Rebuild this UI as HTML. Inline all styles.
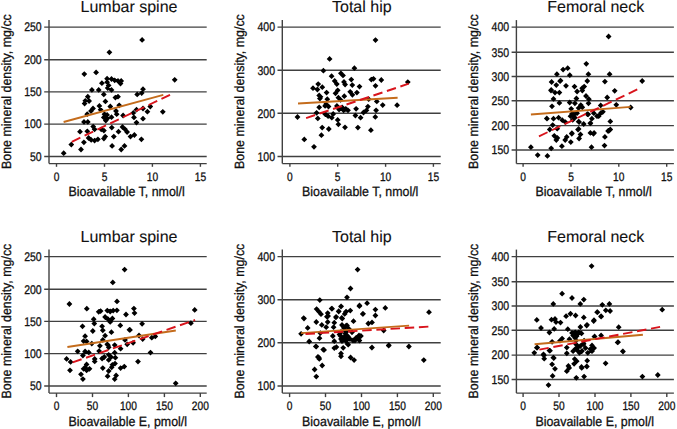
<!DOCTYPE html>
<html><head><meta charset="utf-8"><style>
html,body{margin:0;padding:0;background:#fff;}
svg{display:block;text-rendering:geometricPrecision;}
</style></head><body>
<svg width="677" height="429" viewBox="0 0 677 429">
<rect width="677" height="429" fill="#fff"/>
<g stroke="#404040" stroke-width="1.4" fill="none">
<line x1="44.2" y1="27.1" x2="206.7" y2="27.1"/>
<line x1="44.2" y1="59.8" x2="206.7" y2="59.8"/>
<line x1="44.2" y1="91.9" x2="206.7" y2="91.9"/>
<line x1="44.2" y1="124.1" x2="206.7" y2="124.1"/>
<line x1="44.2" y1="156.5" x2="206.7" y2="156.5"/>
<line x1="49.0" y1="20.1" x2="49.0" y2="163.6"/>
<line x1="49.0" y1="163.6" x2="206.7" y2="163.6"/>
<line x1="56.5" y1="163.6" x2="56.5" y2="166.8"/>
<line x1="104.5" y1="163.6" x2="104.5" y2="166.8"/>
<line x1="152.4" y1="163.6" x2="152.4" y2="166.8"/>
<line x1="200.4" y1="163.6" x2="200.4" y2="166.8"/>
<line x1="277.5" y1="27.1" x2="440.7" y2="27.1"/>
<line x1="277.5" y1="70.3" x2="440.7" y2="70.3"/>
<line x1="277.5" y1="113.2" x2="440.7" y2="113.2"/>
<line x1="277.5" y1="156.5" x2="440.7" y2="156.5"/>
<line x1="282.3" y1="20.1" x2="282.3" y2="163.6"/>
<line x1="282.3" y1="163.6" x2="440.7" y2="163.6"/>
<line x1="289.9" y1="163.6" x2="289.9" y2="166.8"/>
<line x1="337.7" y1="163.6" x2="337.7" y2="166.8"/>
<line x1="385.6" y1="163.6" x2="385.6" y2="166.8"/>
<line x1="433.4" y1="163.6" x2="433.4" y2="166.8"/>
<line x1="511.6" y1="27.1" x2="673.9" y2="27.1"/>
<line x1="511.6" y1="52.2" x2="673.9" y2="52.2"/>
<line x1="511.6" y1="76.5" x2="673.9" y2="76.5"/>
<line x1="511.6" y1="100.8" x2="673.9" y2="100.8"/>
<line x1="511.6" y1="125.6" x2="673.9" y2="125.6"/>
<line x1="511.6" y1="150.0" x2="673.9" y2="150.0"/>
<line x1="516.4" y1="20.1" x2="516.4" y2="163.6"/>
<line x1="516.4" y1="163.6" x2="673.9" y2="163.6"/>
<line x1="523.1" y1="163.6" x2="523.1" y2="166.8"/>
<line x1="571.0" y1="163.6" x2="571.0" y2="166.8"/>
<line x1="618.8" y1="163.6" x2="618.8" y2="166.8"/>
<line x1="666.7" y1="163.6" x2="666.7" y2="166.8"/>
<line x1="44.2" y1="256.6" x2="206.7" y2="256.6"/>
<line x1="44.2" y1="289.3" x2="206.7" y2="289.3"/>
<line x1="44.2" y1="321.4" x2="206.7" y2="321.4"/>
<line x1="44.2" y1="353.6" x2="206.7" y2="353.6"/>
<line x1="44.2" y1="386.0" x2="206.7" y2="386.0"/>
<line x1="49.0" y1="249.6" x2="49.0" y2="393.1"/>
<line x1="49.0" y1="393.1" x2="206.7" y2="393.1"/>
<line x1="56.5" y1="393.1" x2="56.5" y2="397.1"/>
<line x1="92.5" y1="393.1" x2="92.5" y2="397.1"/>
<line x1="128.4" y1="393.1" x2="128.4" y2="397.1"/>
<line x1="164.4" y1="393.1" x2="164.4" y2="397.1"/>
<line x1="200.3" y1="393.1" x2="200.3" y2="397.1"/>
<line x1="277.5" y1="256.6" x2="440.7" y2="256.6"/>
<line x1="277.5" y1="299.8" x2="440.7" y2="299.8"/>
<line x1="277.5" y1="342.7" x2="440.7" y2="342.7"/>
<line x1="277.5" y1="386.0" x2="440.7" y2="386.0"/>
<line x1="282.3" y1="249.6" x2="282.3" y2="393.1"/>
<line x1="282.3" y1="393.1" x2="440.7" y2="393.1"/>
<line x1="289.6" y1="393.1" x2="289.6" y2="397.1"/>
<line x1="325.5" y1="393.1" x2="325.5" y2="397.1"/>
<line x1="361.5" y1="393.1" x2="361.5" y2="397.1"/>
<line x1="397.4" y1="393.1" x2="397.4" y2="397.1"/>
<line x1="433.3" y1="393.1" x2="433.3" y2="397.1"/>
<line x1="511.6" y1="256.6" x2="673.9" y2="256.6"/>
<line x1="511.6" y1="281.7" x2="673.9" y2="281.7"/>
<line x1="511.6" y1="306.0" x2="673.9" y2="306.0"/>
<line x1="511.6" y1="330.3" x2="673.9" y2="330.3"/>
<line x1="511.6" y1="355.1" x2="673.9" y2="355.1"/>
<line x1="511.6" y1="379.5" x2="673.9" y2="379.5"/>
<line x1="516.4" y1="249.6" x2="516.4" y2="393.1"/>
<line x1="516.4" y1="393.1" x2="673.9" y2="393.1"/>
<line x1="523.1" y1="393.1" x2="523.1" y2="397.1"/>
<line x1="559.0" y1="393.1" x2="559.0" y2="397.1"/>
<line x1="595.0" y1="393.1" x2="595.0" y2="397.1"/>
<line x1="630.9" y1="393.1" x2="630.9" y2="397.1"/>
<line x1="666.8" y1="393.1" x2="666.8" y2="397.1"/>
</g>
<g font-family="Liberation Sans, sans-serif" fill="#111" stroke="#111" stroke-width="0.3">
<text x="129.0" y="12.2" font-size="16" text-anchor="middle" stroke-width="0.1">Lumbar spine</text>
<text transform="translate(41.7,31.4) scale(0.84,1)" font-size="12.5" text-anchor="end">250</text>
<text transform="translate(41.7,64.1) scale(0.84,1)" font-size="12.5" text-anchor="end">200</text>
<text transform="translate(41.7,96.2) scale(0.84,1)" font-size="12.5" text-anchor="end">150</text>
<text transform="translate(41.7,128.4) scale(0.84,1)" font-size="12.5" text-anchor="end">100</text>
<text transform="translate(41.7,160.8) scale(0.84,1)" font-size="12.5" text-anchor="end">50</text>
<text transform="translate(56.5,180.6) scale(0.83,1)" font-size="12.3" text-anchor="middle">0</text>
<text transform="translate(104.5,180.6) scale(0.83,1)" font-size="12.3" text-anchor="middle">5</text>
<text transform="translate(152.4,180.6) scale(0.83,1)" font-size="12.3" text-anchor="middle">10</text>
<text transform="translate(200.4,180.6) scale(0.83,1)" font-size="12.3" text-anchor="middle">15</text>
<text x="68.5" y="196.2" font-size="13.4" textLength="116.27" lengthAdjust="spacingAndGlyphs">Bioavailable T, nmol/l</text>
<text transform="translate(10.8,91.6) rotate(-90)" font-size="13.4" text-anchor="middle" textLength="154.84" lengthAdjust="spacingAndGlyphs">Bone mineral density, mg/cc</text>
<text x="361.8" y="12.2" font-size="16" text-anchor="middle" stroke-width="0.1">Total hip</text>
<text transform="translate(275.0,31.4) scale(0.84,1)" font-size="12.5" text-anchor="end">400</text>
<text transform="translate(275.0,74.6) scale(0.84,1)" font-size="12.5" text-anchor="end">300</text>
<text transform="translate(275.0,117.5) scale(0.84,1)" font-size="12.5" text-anchor="end">200</text>
<text transform="translate(275.0,160.8) scale(0.84,1)" font-size="12.5" text-anchor="end">100</text>
<text transform="translate(289.9,180.6) scale(0.83,1)" font-size="12.3" text-anchor="middle">0</text>
<text transform="translate(337.7,180.6) scale(0.83,1)" font-size="12.3" text-anchor="middle">5</text>
<text transform="translate(385.6,180.6) scale(0.83,1)" font-size="12.3" text-anchor="middle">10</text>
<text transform="translate(433.4,180.6) scale(0.83,1)" font-size="12.3" text-anchor="middle">15</text>
<text x="302.1" y="196.2" font-size="13.4" textLength="116.27" lengthAdjust="spacingAndGlyphs">Bioavailable T, nmol/l</text>
<text transform="translate(244.0,91.6) rotate(-90)" font-size="13.4" text-anchor="middle" textLength="154.84" lengthAdjust="spacingAndGlyphs">Bone mineral density, mg/cc</text>
<text x="595.8" y="12.2" font-size="16" text-anchor="middle" stroke-width="0.1">Femoral neck</text>
<text transform="translate(509.1,31.4) scale(0.84,1)" font-size="12.5" text-anchor="end">400</text>
<text transform="translate(509.1,56.5) scale(0.84,1)" font-size="12.5" text-anchor="end">350</text>
<text transform="translate(509.1,80.8) scale(0.84,1)" font-size="12.5" text-anchor="end">300</text>
<text transform="translate(509.1,105.1) scale(0.84,1)" font-size="12.5" text-anchor="end">250</text>
<text transform="translate(509.1,129.9) scale(0.84,1)" font-size="12.5" text-anchor="end">200</text>
<text transform="translate(509.1,154.3) scale(0.84,1)" font-size="12.5" text-anchor="end">150</text>
<text transform="translate(523.1,180.6) scale(0.83,1)" font-size="12.3" text-anchor="middle">0</text>
<text transform="translate(571.0,180.6) scale(0.83,1)" font-size="12.3" text-anchor="middle">5</text>
<text transform="translate(618.8,180.6) scale(0.83,1)" font-size="12.3" text-anchor="middle">10</text>
<text transform="translate(666.7,180.6) scale(0.83,1)" font-size="12.3" text-anchor="middle">15</text>
<text x="535.4" y="196.2" font-size="13.4" textLength="116.27" lengthAdjust="spacingAndGlyphs">Bioavailable T, nmol/l</text>
<text transform="translate(477.7,91.6) rotate(-90)" font-size="13.4" text-anchor="middle" textLength="154.84" lengthAdjust="spacingAndGlyphs">Bone mineral density, mg/cc</text>
<text x="129.0" y="241.7" font-size="16" text-anchor="middle" stroke-width="0.1">Lumbar spine</text>
<text transform="translate(41.7,260.9) scale(0.84,1)" font-size="12.5" text-anchor="end">250</text>
<text transform="translate(41.7,293.6) scale(0.84,1)" font-size="12.5" text-anchor="end">200</text>
<text transform="translate(41.7,325.7) scale(0.84,1)" font-size="12.5" text-anchor="end">150</text>
<text transform="translate(41.7,357.9) scale(0.84,1)" font-size="12.5" text-anchor="end">100</text>
<text transform="translate(41.7,390.3) scale(0.84,1)" font-size="12.5" text-anchor="end">50</text>
<text transform="translate(56.5,410.1) scale(0.83,1)" font-size="12.3" text-anchor="middle">0</text>
<text transform="translate(92.5,410.1) scale(0.83,1)" font-size="12.3" text-anchor="middle">50</text>
<text transform="translate(128.4,410.1) scale(0.83,1)" font-size="12.3" text-anchor="middle">100</text>
<text transform="translate(164.4,410.1) scale(0.83,1)" font-size="12.3" text-anchor="middle">150</text>
<text transform="translate(200.3,410.1) scale(0.83,1)" font-size="12.3" text-anchor="middle">200</text>
<text x="68.5" y="425.7" font-size="13.4" textLength="118.56" lengthAdjust="spacingAndGlyphs">Bioavailable E, pmol/l</text>
<text transform="translate(10.8,321.1) rotate(-90)" font-size="13.4" text-anchor="middle" textLength="154.84" lengthAdjust="spacingAndGlyphs">Bone mineral density, mg/cc</text>
<text x="361.8" y="241.7" font-size="16" text-anchor="middle" stroke-width="0.1">Total hip</text>
<text transform="translate(275.0,260.9) scale(0.84,1)" font-size="12.5" text-anchor="end">400</text>
<text transform="translate(275.0,304.1) scale(0.84,1)" font-size="12.5" text-anchor="end">300</text>
<text transform="translate(275.0,347.0) scale(0.84,1)" font-size="12.5" text-anchor="end">200</text>
<text transform="translate(275.0,390.3) scale(0.84,1)" font-size="12.5" text-anchor="end">100</text>
<text transform="translate(289.6,410.1) scale(0.83,1)" font-size="12.3" text-anchor="middle">0</text>
<text transform="translate(325.5,410.1) scale(0.83,1)" font-size="12.3" text-anchor="middle">50</text>
<text transform="translate(361.5,410.1) scale(0.83,1)" font-size="12.3" text-anchor="middle">100</text>
<text transform="translate(397.4,410.1) scale(0.83,1)" font-size="12.3" text-anchor="middle">150</text>
<text transform="translate(433.3,410.1) scale(0.83,1)" font-size="12.3" text-anchor="middle">200</text>
<text x="302.1" y="425.7" font-size="13.4" textLength="118.56" lengthAdjust="spacingAndGlyphs">Bioavailable E, pmol/l</text>
<text transform="translate(244.0,321.1) rotate(-90)" font-size="13.4" text-anchor="middle" textLength="154.84" lengthAdjust="spacingAndGlyphs">Bone mineral density, mg/cc</text>
<text x="595.8" y="241.7" font-size="16" text-anchor="middle" stroke-width="0.1">Femoral neck</text>
<text transform="translate(509.1,260.9) scale(0.84,1)" font-size="12.5" text-anchor="end">400</text>
<text transform="translate(509.1,286.0) scale(0.84,1)" font-size="12.5" text-anchor="end">350</text>
<text transform="translate(509.1,310.3) scale(0.84,1)" font-size="12.5" text-anchor="end">300</text>
<text transform="translate(509.1,334.6) scale(0.84,1)" font-size="12.5" text-anchor="end">250</text>
<text transform="translate(509.1,359.4) scale(0.84,1)" font-size="12.5" text-anchor="end">200</text>
<text transform="translate(509.1,383.8) scale(0.84,1)" font-size="12.5" text-anchor="end">150</text>
<text transform="translate(523.1,410.1) scale(0.83,1)" font-size="12.3" text-anchor="middle">0</text>
<text transform="translate(559.0,410.1) scale(0.83,1)" font-size="12.3" text-anchor="middle">50</text>
<text transform="translate(595.0,410.1) scale(0.83,1)" font-size="12.3" text-anchor="middle">100</text>
<text transform="translate(630.9,410.1) scale(0.83,1)" font-size="12.3" text-anchor="middle">150</text>
<text transform="translate(666.8,410.1) scale(0.83,1)" font-size="12.3" text-anchor="middle">200</text>
<text x="535.4" y="425.7" font-size="13.4" textLength="118.56" lengthAdjust="spacingAndGlyphs">Bioavailable E, pmol/l</text>
<text transform="translate(477.7,321.1) rotate(-90)" font-size="13.4" text-anchor="middle" textLength="154.84" lengthAdjust="spacingAndGlyphs">Bone mineral density, mg/cc</text>
</g>
<path fill="#000" d="M142.1 37.0l2.9 2.9l-2.9 2.9l-2.9 -2.9zM109.4 49.4l2.9 2.9l-2.9 2.9l-2.9 -2.9zM84.3 71.2l2.9 2.9l-2.9 2.9l-2.9 -2.9zM96.1 69.5l2.9 2.9l-2.9 2.9l-2.9 -2.9zM174.7 76.9l2.9 2.9l-2.9 2.9l-2.9 -2.9zM107.1 75.8l2.9 2.9l-2.9 2.9l-2.9 -2.9zM111.5 76.1l2.9 2.9l-2.9 2.9l-2.9 -2.9zM114.7 77.4l2.9 2.9l-2.9 2.9l-2.9 -2.9zM118.0 78.0l2.9 2.9l-2.9 2.9l-2.9 -2.9zM121.2 78.0l2.9 2.9l-2.9 2.9l-2.9 -2.9zM120.5 80.6l2.9 2.9l-2.9 2.9l-2.9 -2.9zM107.1 79.3l2.9 2.9l-2.9 2.9l-2.9 -2.9zM101.9 80.3l2.9 2.9l-2.9 2.9l-2.9 -2.9zM108.6 82.5l2.9 2.9l-2.9 2.9l-2.9 -2.9zM107.7 85.1l2.9 2.9l-2.9 2.9l-2.9 -2.9zM111.5 87.0l2.9 2.9l-2.9 2.9l-2.9 -2.9zM91.9 87.0l2.9 2.9l-2.9 2.9l-2.9 -2.9zM98.7 87.0l2.9 2.9l-2.9 2.9l-2.9 -2.9zM103.8 91.5l2.9 2.9l-2.9 2.9l-2.9 -2.9zM143.0 86.3l2.9 2.9l-2.9 2.9l-2.9 -2.9zM141.7 90.2l2.9 2.9l-2.9 2.9l-2.9 -2.9zM137.2 91.5l2.9 2.9l-2.9 2.9l-2.9 -2.9zM87.8 93.8l2.9 2.9l-2.9 2.9l-2.9 -2.9zM115.4 94.7l2.9 2.9l-2.9 2.9l-2.9 -2.9zM118.0 93.8l2.9 2.9l-2.9 2.9l-2.9 -2.9zM85.3 97.9l2.9 2.9l-2.9 2.9l-2.9 -2.9zM89.1 98.1l2.9 2.9l-2.9 2.9l-2.9 -2.9zM84.6 100.7l2.9 2.9l-2.9 2.9l-2.9 -2.9zM105.4 98.5l2.9 2.9l-2.9 2.9l-2.9 -2.9zM99.4 103.0l2.9 2.9l-2.9 2.9l-2.9 -2.9zM110.3 103.6l2.9 2.9l-2.9 2.9l-2.9 -2.9zM119.2 102.4l2.9 2.9l-2.9 2.9l-2.9 -2.9zM93.0 105.6l2.9 2.9l-2.9 2.9l-2.9 -2.9zM91.0 108.1l2.9 2.9l-2.9 2.9l-2.9 -2.9zM100.6 106.8l2.9 2.9l-2.9 2.9l-2.9 -2.9zM87.2 111.3l2.9 2.9l-2.9 2.9l-2.9 -2.9zM116.0 108.1l2.9 2.9l-2.9 2.9l-2.9 -2.9zM116.7 111.3l2.9 2.9l-2.9 2.9l-2.9 -2.9zM104.5 111.3l2.9 2.9l-2.9 2.9l-2.9 -2.9zM107.1 112.0l2.9 2.9l-2.9 2.9l-2.9 -2.9zM103.8 114.5l2.9 2.9l-2.9 2.9l-2.9 -2.9zM107.7 115.2l2.9 2.9l-2.9 2.9l-2.9 -2.9zM111.5 114.3l2.9 2.9l-2.9 2.9l-2.9 -2.9zM105.8 117.7l2.9 2.9l-2.9 2.9l-2.9 -2.9zM123.1 112.6l2.9 2.9l-2.9 2.9l-2.9 -2.9zM133.3 110.0l2.9 2.9l-2.9 2.9l-2.9 -2.9zM136.5 106.8l2.9 2.9l-2.9 2.9l-2.9 -2.9zM143.0 105.6l2.9 2.9l-2.9 2.9l-2.9 -2.9zM147.4 108.8l2.9 2.9l-2.9 2.9l-2.9 -2.9zM134.0 114.5l2.9 2.9l-2.9 2.9l-2.9 -2.9zM143.0 115.8l2.9 2.9l-2.9 2.9l-2.9 -2.9zM84.0 119.0l2.9 2.9l-2.9 2.9l-2.9 -2.9zM87.8 119.0l2.9 2.9l-2.9 2.9l-2.9 -2.9zM136.5 119.7l2.9 2.9l-2.9 2.9l-2.9 -2.9zM150.3 103.6l2.9 2.9l-2.9 2.9l-2.9 -2.9zM162.8 108.9l2.9 2.9l-2.9 2.9l-2.9 -2.9zM93.2 123.7l2.9 2.9l-2.9 2.9l-2.9 -2.9zM94.6 126.4l2.9 2.9l-2.9 2.9l-2.9 -2.9zM80.0 128.8l2.9 2.9l-2.9 2.9l-2.9 -2.9zM87.3 128.4l2.9 2.9l-2.9 2.9l-2.9 -2.9zM103.9 127.7l2.9 2.9l-2.9 2.9l-2.9 -2.9zM101.2 126.4l2.9 2.9l-2.9 2.9l-2.9 -2.9zM111.8 124.7l2.9 2.9l-2.9 2.9l-2.9 -2.9zM118.5 128.8l2.9 2.9l-2.9 2.9l-2.9 -2.9zM122.5 124.1l2.9 2.9l-2.9 2.9l-2.9 -2.9zM125.1 126.4l2.9 2.9l-2.9 2.9l-2.9 -2.9zM127.1 129.1l2.9 2.9l-2.9 2.9l-2.9 -2.9zM88.6 135.1l2.9 2.9l-2.9 2.9l-2.9 -2.9zM91.2 137.0l2.9 2.9l-2.9 2.9l-2.9 -2.9zM94.6 137.7l2.9 2.9l-2.9 2.9l-2.9 -2.9zM97.9 136.4l2.9 2.9l-2.9 2.9l-2.9 -2.9zM103.9 135.7l2.9 2.9l-2.9 2.9l-2.9 -2.9zM105.2 133.7l2.9 2.9l-2.9 2.9l-2.9 -2.9zM113.8 133.7l2.9 2.9l-2.9 2.9l-2.9 -2.9zM130.5 133.7l2.9 2.9l-2.9 2.9l-2.9 -2.9zM134.4 132.1l2.9 2.9l-2.9 2.9l-2.9 -2.9zM141.4 136.4l2.9 2.9l-2.9 2.9l-2.9 -2.9zM83.9 139.4l2.9 2.9l-2.9 2.9l-2.9 -2.9zM71.3 141.7l2.9 2.9l-2.9 2.9l-2.9 -2.9zM112.1 143.0l2.9 2.9l-2.9 2.9l-2.9 -2.9zM124.5 143.0l2.9 2.9l-2.9 2.9l-2.9 -2.9zM121.2 146.6l2.9 2.9l-2.9 2.9l-2.9 -2.9zM81.0 146.6l2.9 2.9l-2.9 2.9l-2.9 -2.9zM63.7 150.3l2.9 2.9l-2.9 2.9l-2.9 -2.9z"/>
<path fill="#000" d="M375.5 37.2l2.9 2.9l-2.9 2.9l-2.9 -2.9zM329.6 56.0l2.9 2.9l-2.9 2.9l-2.9 -2.9zM323.4 67.8l2.9 2.9l-2.9 2.9l-2.9 -2.9zM354.4 65.3l2.9 2.9l-2.9 2.9l-2.9 -2.9zM340.9 70.4l2.9 2.9l-2.9 2.9l-2.9 -2.9zM343.0 72.5l2.9 2.9l-2.9 2.9l-2.9 -2.9zM331.6 73.3l2.9 2.9l-2.9 2.9l-2.9 -2.9zM351.3 76.7l2.9 2.9l-2.9 2.9l-2.9 -2.9zM334.7 78.1l2.9 2.9l-2.9 2.9l-2.9 -2.9zM344.0 79.1l2.9 2.9l-2.9 2.9l-2.9 -2.9zM371.3 76.7l2.9 2.9l-2.9 2.9l-2.9 -2.9zM381.3 77.1l2.9 2.9l-2.9 2.9l-2.9 -2.9zM407.8 79.2l2.9 2.9l-2.9 2.9l-2.9 -2.9zM318.2 81.2l2.9 2.9l-2.9 2.9l-2.9 -2.9zM336.8 81.2l2.9 2.9l-2.9 2.9l-2.9 -2.9zM345.1 81.6l2.9 2.9l-2.9 2.9l-2.9 -2.9zM352.3 82.2l2.9 2.9l-2.9 2.9l-2.9 -2.9zM359.5 83.7l2.9 2.9l-2.9 2.9l-2.9 -2.9zM375.5 82.9l2.9 2.9l-2.9 2.9l-2.9 -2.9zM313.0 85.3l2.9 2.9l-2.9 2.9l-2.9 -2.9zM322.3 84.3l2.9 2.9l-2.9 2.9l-2.9 -2.9zM317.4 86.6l2.9 2.9l-2.9 2.9l-2.9 -2.9zM326.6 89.7l2.9 2.9l-2.9 2.9l-2.9 -2.9zM319.2 92.6l2.9 2.9l-2.9 2.9l-2.9 -2.9zM319.9 95.6l2.9 2.9l-2.9 2.9l-2.9 -2.9zM335.5 90.4l2.9 2.9l-2.9 2.9l-2.9 -2.9zM337.7 87.4l2.9 2.9l-2.9 2.9l-2.9 -2.9zM344.3 93.3l2.9 2.9l-2.9 2.9l-2.9 -2.9zM350.2 88.9l2.9 2.9l-2.9 2.9l-2.9 -2.9zM352.4 91.9l2.9 2.9l-2.9 2.9l-2.9 -2.9zM356.9 89.7l2.9 2.9l-2.9 2.9l-2.9 -2.9zM338.4 94.8l2.9 2.9l-2.9 2.9l-2.9 -2.9zM340.6 97.0l2.9 2.9l-2.9 2.9l-2.9 -2.9zM327.3 96.3l2.9 2.9l-2.9 2.9l-2.9 -2.9zM368.7 96.3l2.9 2.9l-2.9 2.9l-2.9 -2.9zM376.8 98.5l2.9 2.9l-2.9 2.9l-2.9 -2.9zM382.7 102.2l2.9 2.9l-2.9 2.9l-2.9 -2.9zM397.1 102.3l2.9 2.9l-2.9 2.9l-2.9 -2.9zM319.2 104.4l2.9 2.9l-2.9 2.9l-2.9 -2.9zM325.1 103.0l2.9 2.9l-2.9 2.9l-2.9 -2.9zM336.9 103.0l2.9 2.9l-2.9 2.9l-2.9 -2.9zM342.1 104.4l2.9 2.9l-2.9 2.9l-2.9 -2.9zM345.8 105.9l2.9 2.9l-2.9 2.9l-2.9 -2.9zM348.0 107.4l2.9 2.9l-2.9 2.9l-2.9 -2.9zM343.6 107.4l2.9 2.9l-2.9 2.9l-2.9 -2.9zM339.1 106.6l2.9 2.9l-2.9 2.9l-2.9 -2.9zM356.1 105.9l2.9 2.9l-2.9 2.9l-2.9 -2.9zM367.9 103.7l2.9 2.9l-2.9 2.9l-2.9 -2.9zM366.5 107.4l2.9 2.9l-2.9 2.9l-2.9 -2.9zM363.5 109.6l2.9 2.9l-2.9 2.9l-2.9 -2.9zM376.1 107.4l2.9 2.9l-2.9 2.9l-2.9 -2.9zM316.6 109.9l2.9 2.9l-2.9 2.9l-2.9 -2.9zM325.1 111.1l2.9 2.9l-2.9 2.9l-2.9 -2.9zM328.1 113.3l2.9 2.9l-2.9 2.9l-2.9 -2.9zM331.8 114.8l2.9 2.9l-2.9 2.9l-2.9 -2.9zM333.2 111.1l2.9 2.9l-2.9 2.9l-2.9 -2.9zM355.4 112.6l2.9 2.9l-2.9 2.9l-2.9 -2.9zM360.6 114.8l2.9 2.9l-2.9 2.9l-2.9 -2.9zM375.3 114.0l2.9 2.9l-2.9 2.9l-2.9 -2.9zM317.8 115.5l2.9 2.9l-2.9 2.9l-2.9 -2.9zM337.7 117.0l2.9 2.9l-2.9 2.9l-2.9 -2.9zM338.4 121.4l2.9 2.9l-2.9 2.9l-2.9 -2.9zM322.2 124.7l2.9 2.9l-2.9 2.9l-2.9 -2.9zM328.8 126.1l2.9 2.9l-2.9 2.9l-2.9 -2.9zM345.0 124.4l2.9 2.9l-2.9 2.9l-2.9 -2.9zM357.9 124.7l2.9 2.9l-2.9 2.9l-2.9 -2.9zM370.9 127.3l2.9 2.9l-2.9 2.9l-2.9 -2.9zM321.4 132.3l2.9 2.9l-2.9 2.9l-2.9 -2.9zM297.5 114.1l2.9 2.9l-2.9 2.9l-2.9 -2.9zM304.3 136.5l2.9 2.9l-2.9 2.9l-2.9 -2.9zM314.0 143.9l2.9 2.9l-2.9 2.9l-2.9 -2.9zM373.5 75.9l2.9 2.9l-2.9 2.9l-2.9 -2.9zM320.5 93.9l2.9 2.9l-2.9 2.9l-2.9 -2.9zM326.0 101.3l2.9 2.9l-2.9 2.9l-2.9 -2.9zM328.5 103.6l2.9 2.9l-2.9 2.9l-2.9 -2.9z"/>
<path fill="#000" d="M608.6 33.6l2.9 2.9l-2.9 2.9l-2.9 -2.9zM586.3 60.9l2.9 2.9l-2.9 2.9l-2.9 -2.9zM563.1 66.7l2.9 2.9l-2.9 2.9l-2.9 -2.9zM567.7 65.3l2.9 2.9l-2.9 2.9l-2.9 -2.9zM556.9 71.3l2.9 2.9l-2.9 2.9l-2.9 -2.9zM569.8 72.3l2.9 2.9l-2.9 2.9l-2.9 -2.9zM588.4 71.3l2.9 2.9l-2.9 2.9l-2.9 -2.9zM609.6 71.3l2.9 2.9l-2.9 2.9l-2.9 -2.9zM551.6 79.1l2.9 2.9l-2.9 2.9l-2.9 -2.9zM560.5 77.7l2.9 2.9l-2.9 2.9l-2.9 -2.9zM556.3 82.2l2.9 2.9l-2.9 2.9l-2.9 -2.9zM587.3 78.1l2.9 2.9l-2.9 2.9l-2.9 -2.9zM604.9 78.7l2.9 2.9l-2.9 2.9l-2.9 -2.9zM642.2 78.1l2.9 2.9l-2.9 2.9l-2.9 -2.9zM566.0 82.9l2.9 2.9l-2.9 2.9l-2.9 -2.9zM574.5 83.7l2.9 2.9l-2.9 2.9l-2.9 -2.9zM584.2 83.7l2.9 2.9l-2.9 2.9l-2.9 -2.9zM582.2 85.3l2.9 2.9l-2.9 2.9l-2.9 -2.9zM551.2 87.0l2.9 2.9l-2.9 2.9l-2.9 -2.9zM614.7 87.9l2.9 2.9l-2.9 2.9l-2.9 -2.9zM560.1 78.3l2.9 2.9l-2.9 2.9l-2.9 -2.9zM551.0 87.7l2.9 2.9l-2.9 2.9l-2.9 -2.9zM555.0 89.7l2.9 2.9l-2.9 2.9l-2.9 -2.9zM559.4 89.7l2.9 2.9l-2.9 2.9l-2.9 -2.9zM577.1 88.6l2.9 2.9l-2.9 2.9l-2.9 -2.9zM582.3 87.7l2.9 2.9l-2.9 2.9l-2.9 -2.9zM586.0 93.1l2.9 2.9l-2.9 2.9l-2.9 -2.9zM553.5 96.0l2.9 2.9l-2.9 2.9l-2.9 -2.9zM576.4 95.6l2.9 2.9l-2.9 2.9l-2.9 -2.9zM588.9 96.3l2.9 2.9l-2.9 2.9l-2.9 -2.9zM607.2 94.6l2.9 2.9l-2.9 2.9l-2.9 -2.9zM559.4 100.0l2.9 2.9l-2.9 2.9l-2.9 -2.9zM569.7 99.6l2.9 2.9l-2.9 2.9l-2.9 -2.9zM574.9 100.4l2.9 2.9l-2.9 2.9l-2.9 -2.9zM588.5 100.4l2.9 2.9l-2.9 2.9l-2.9 -2.9zM552.0 103.4l2.9 2.9l-2.9 2.9l-2.9 -2.9zM580.8 102.2l2.9 2.9l-2.9 2.9l-2.9 -2.9zM582.3 104.4l2.9 2.9l-2.9 2.9l-2.9 -2.9zM578.6 105.2l2.9 2.9l-2.9 2.9l-2.9 -2.9zM571.2 105.9l2.9 2.9l-2.9 2.9l-2.9 -2.9zM600.7 102.5l2.9 2.9l-2.9 2.9l-2.9 -2.9zM616.3 101.9l2.9 2.9l-2.9 2.9l-2.9 -2.9zM630.7 104.6l2.9 2.9l-2.9 2.9l-2.9 -2.9zM571.9 111.1l2.9 2.9l-2.9 2.9l-2.9 -2.9zM574.1 111.8l2.9 2.9l-2.9 2.9l-2.9 -2.9zM570.5 113.3l2.9 2.9l-2.9 2.9l-2.9 -2.9zM574.9 114.8l2.9 2.9l-2.9 2.9l-2.9 -2.9zM577.1 110.3l2.9 2.9l-2.9 2.9l-2.9 -2.9zM588.2 111.4l2.9 2.9l-2.9 2.9l-2.9 -2.9zM593.8 110.3l2.9 2.9l-2.9 2.9l-2.9 -2.9zM597.0 113.3l2.9 2.9l-2.9 2.9l-2.9 -2.9zM600.7 110.3l2.9 2.9l-2.9 2.9l-2.9 -2.9zM602.9 108.9l2.9 2.9l-2.9 2.9l-2.9 -2.9zM546.8 115.5l2.9 2.9l-2.9 2.9l-2.9 -2.9zM553.5 115.8l2.9 2.9l-2.9 2.9l-2.9 -2.9zM558.6 114.8l2.9 2.9l-2.9 2.9l-2.9 -2.9zM562.3 117.3l2.9 2.9l-2.9 2.9l-2.9 -2.9zM565.3 119.2l2.9 2.9l-2.9 2.9l-2.9 -2.9zM572.7 117.0l2.9 2.9l-2.9 2.9l-2.9 -2.9zM578.6 118.8l2.9 2.9l-2.9 2.9l-2.9 -2.9zM583.7 121.1l2.9 2.9l-2.9 2.9l-2.9 -2.9zM591.9 115.8l2.9 2.9l-2.9 2.9l-2.9 -2.9zM590.4 120.2l2.9 2.9l-2.9 2.9l-2.9 -2.9zM610.3 118.5l2.9 2.9l-2.9 2.9l-2.9 -2.9zM552.7 122.2l2.9 2.9l-2.9 2.9l-2.9 -2.9zM549.8 126.6l2.9 2.9l-2.9 2.9l-2.9 -2.9zM557.2 125.8l2.9 2.9l-2.9 2.9l-2.9 -2.9zM578.6 126.1l2.9 2.9l-2.9 2.9l-2.9 -2.9zM608.1 128.1l2.9 2.9l-2.9 2.9l-2.9 -2.9zM610.3 126.6l2.9 2.9l-2.9 2.9l-2.9 -2.9zM571.9 130.3l2.9 2.9l-2.9 2.9l-2.9 -2.9zM590.4 130.0l2.9 2.9l-2.9 2.9l-2.9 -2.9zM594.1 130.0l2.9 2.9l-2.9 2.9l-2.9 -2.9zM547.0 115.8l2.9 2.9l-2.9 2.9l-2.9 -2.9zM587.3 111.2l2.9 2.9l-2.9 2.9l-2.9 -2.9zM598.7 113.3l2.9 2.9l-2.9 2.9l-2.9 -2.9zM579.1 119.1l2.9 2.9l-2.9 2.9l-2.9 -2.9zM590.4 120.5l2.9 2.9l-2.9 2.9l-2.9 -2.9zM609.1 127.8l2.9 2.9l-2.9 2.9l-2.9 -2.9zM578.0 126.7l2.9 2.9l-2.9 2.9l-2.9 -2.9zM554.3 132.9l2.9 2.9l-2.9 2.9l-2.9 -2.9zM557.4 135.0l2.9 2.9l-2.9 2.9l-2.9 -2.9zM566.7 134.0l2.9 2.9l-2.9 2.9l-2.9 -2.9zM571.8 130.9l2.9 2.9l-2.9 2.9l-2.9 -2.9zM565.2 137.1l2.9 2.9l-2.9 2.9l-2.9 -2.9zM570.8 139.2l2.9 2.9l-2.9 2.9l-2.9 -2.9zM580.5 131.5l2.9 2.9l-2.9 2.9l-2.9 -2.9zM579.1 135.6l2.9 2.9l-2.9 2.9l-2.9 -2.9zM593.5 130.9l2.9 2.9l-2.9 2.9l-2.9 -2.9zM604.9 134.0l2.9 2.9l-2.9 2.9l-2.9 -2.9zM556.3 137.1l2.9 2.9l-2.9 2.9l-2.9 -2.9zM530.9 144.3l2.9 2.9l-2.9 2.9l-2.9 -2.9zM551.2 145.4l2.9 2.9l-2.9 2.9l-2.9 -2.9zM561.9 143.3l2.9 2.9l-2.9 2.9l-2.9 -2.9zM591.5 144.3l2.9 2.9l-2.9 2.9l-2.9 -2.9zM604.5 142.7l2.9 2.9l-2.9 2.9l-2.9 -2.9zM537.7 152.2l2.9 2.9l-2.9 2.9l-2.9 -2.9zM547.4 153.0l2.9 2.9l-2.9 2.9l-2.9 -2.9z"/>
<path fill="#000" d="M124.6 266.7l2.9 2.9l-2.9 2.9l-2.9 -2.9zM112.8 279.5l2.9 2.9l-2.9 2.9l-2.9 -2.9zM69.4 301.1l2.9 2.9l-2.9 2.9l-2.9 -2.9zM86.8 305.8l2.9 2.9l-2.9 2.9l-2.9 -2.9zM117.0 298.5l2.9 2.9l-2.9 2.9l-2.9 -2.9zM98.7 308.9l2.9 2.9l-2.9 2.9l-2.9 -2.9zM100.6 308.2l2.9 2.9l-2.9 2.9l-2.9 -2.9zM107.3 307.7l2.9 2.9l-2.9 2.9l-2.9 -2.9zM110.2 308.6l2.9 2.9l-2.9 2.9l-2.9 -2.9zM113.2 307.7l2.9 2.9l-2.9 2.9l-2.9 -2.9zM116.9 307.4l2.9 2.9l-2.9 2.9l-2.9 -2.9zM126.0 311.6l2.9 2.9l-2.9 2.9l-2.9 -2.9zM133.9 305.7l2.9 2.9l-2.9 2.9l-2.9 -2.9zM134.5 310.2l2.9 2.9l-2.9 2.9l-2.9 -2.9zM194.7 307.0l2.9 2.9l-2.9 2.9l-2.9 -2.9zM93.7 316.3l2.9 2.9l-2.9 2.9l-2.9 -2.9zM105.1 314.1l2.9 2.9l-2.9 2.9l-2.9 -2.9zM108.0 316.3l2.9 2.9l-2.9 2.9l-2.9 -2.9zM110.2 319.0l2.9 2.9l-2.9 2.9l-2.9 -2.9zM112.4 315.6l2.9 2.9l-2.9 2.9l-2.9 -2.9zM94.3 320.7l2.9 2.9l-2.9 2.9l-2.9 -2.9zM82.5 323.4l2.9 2.9l-2.9 2.9l-2.9 -2.9zM102.1 323.4l2.9 2.9l-2.9 2.9l-2.9 -2.9zM102.8 327.4l2.9 2.9l-2.9 2.9l-2.9 -2.9zM92.8 328.1l2.9 2.9l-2.9 2.9l-2.9 -2.9zM111.4 329.3l2.9 2.9l-2.9 2.9l-2.9 -2.9zM120.3 322.5l2.9 2.9l-2.9 2.9l-2.9 -2.9zM129.4 326.9l2.9 2.9l-2.9 2.9l-2.9 -2.9zM142.1 320.9l2.9 2.9l-2.9 2.9l-2.9 -2.9zM85.1 333.3l2.9 2.9l-2.9 2.9l-2.9 -2.9zM105.1 332.8l2.9 2.9l-2.9 2.9l-2.9 -2.9zM83.6 338.2l2.9 2.9l-2.9 2.9l-2.9 -2.9zM86.6 338.5l2.9 2.9l-2.9 2.9l-2.9 -2.9zM91.8 340.7l2.9 2.9l-2.9 2.9l-2.9 -2.9zM99.9 342.9l2.9 2.9l-2.9 2.9l-2.9 -2.9zM102.8 337.0l2.9 2.9l-2.9 2.9l-2.9 -2.9zM107.3 341.4l2.9 2.9l-2.9 2.9l-2.9 -2.9zM108.7 344.4l2.9 2.9l-2.9 2.9l-2.9 -2.9zM114.7 342.2l2.9 2.9l-2.9 2.9l-2.9 -2.9zM120.6 345.8l2.9 2.9l-2.9 2.9l-2.9 -2.9zM125.0 337.0l2.9 2.9l-2.9 2.9l-2.9 -2.9zM127.2 341.4l2.9 2.9l-2.9 2.9l-2.9 -2.9zM133.1 339.9l2.9 2.9l-2.9 2.9l-2.9 -2.9zM139.0 332.6l2.9 2.9l-2.9 2.9l-2.9 -2.9zM142.7 336.2l2.9 2.9l-2.9 2.9l-2.9 -2.9zM151.8 334.8l2.9 2.9l-2.9 2.9l-2.9 -2.9zM155.3 333.5l2.9 2.9l-2.9 2.9l-2.9 -2.9zM190.9 320.3l2.9 2.9l-2.9 2.9l-2.9 -2.9zM130.0 327.0l2.9 2.9l-2.9 2.9l-2.9 -2.9zM77.7 348.4l2.9 2.9l-2.9 2.9l-2.9 -2.9zM85.1 348.6l2.9 2.9l-2.9 2.9l-2.9 -2.9zM88.8 349.5l2.9 2.9l-2.9 2.9l-2.9 -2.9zM114.7 349.8l2.9 2.9l-2.9 2.9l-2.9 -2.9zM150.5 349.7l2.9 2.9l-2.9 2.9l-2.9 -2.9zM66.6 356.0l2.9 2.9l-2.9 2.9l-2.9 -2.9zM70.6 359.0l2.9 2.9l-2.9 2.9l-2.9 -2.9zM82.9 352.6l2.9 2.9l-2.9 2.9l-2.9 -2.9zM94.7 356.0l2.9 2.9l-2.9 2.9l-2.9 -2.9zM94.7 358.5l2.9 2.9l-2.9 2.9l-2.9 -2.9zM99.1 348.2l2.9 2.9l-2.9 2.9l-2.9 -2.9zM108.0 342.3l2.9 2.9l-2.9 2.9l-2.9 -2.9zM102.1 355.6l2.9 2.9l-2.9 2.9l-2.9 -2.9zM104.3 354.1l2.9 2.9l-2.9 2.9l-2.9 -2.9zM108.7 351.9l2.9 2.9l-2.9 2.9l-2.9 -2.9zM111.0 354.1l2.9 2.9l-2.9 2.9l-2.9 -2.9zM115.4 354.8l2.9 2.9l-2.9 2.9l-2.9 -2.9zM108.7 357.0l2.9 2.9l-2.9 2.9l-2.9 -2.9zM138.0 358.7l2.9 2.9l-2.9 2.9l-2.9 -2.9zM86.6 361.5l2.9 2.9l-2.9 2.9l-2.9 -2.9zM85.1 364.4l2.9 2.9l-2.9 2.9l-2.9 -2.9zM83.6 365.9l2.9 2.9l-2.9 2.9l-2.9 -2.9zM89.5 365.9l2.9 2.9l-2.9 2.9l-2.9 -2.9zM86.6 367.4l2.9 2.9l-2.9 2.9l-2.9 -2.9zM70.0 367.4l2.9 2.9l-2.9 2.9l-2.9 -2.9zM81.0 371.4l2.9 2.9l-2.9 2.9l-2.9 -2.9zM82.9 376.2l2.9 2.9l-2.9 2.9l-2.9 -2.9zM102.8 365.2l2.9 2.9l-2.9 2.9l-2.9 -2.9zM112.4 361.9l2.9 2.9l-2.9 2.9l-2.9 -2.9zM115.0 360.7l2.9 2.9l-2.9 2.9l-2.9 -2.9zM111.7 364.4l2.9 2.9l-2.9 2.9l-2.9 -2.9zM120.6 365.2l2.9 2.9l-2.9 2.9l-2.9 -2.9zM124.3 363.7l2.9 2.9l-2.9 2.9l-2.9 -2.9zM108.7 368.1l2.9 2.9l-2.9 2.9l-2.9 -2.9zM107.6 373.3l2.9 2.9l-2.9 2.9l-2.9 -2.9zM116.1 372.6l2.9 2.9l-2.9 2.9l-2.9 -2.9zM114.7 376.2l2.9 2.9l-2.9 2.9l-2.9 -2.9zM175.7 380.4l2.9 2.9l-2.9 2.9l-2.9 -2.9z"/>
<path fill="#000" d="M357.6 266.7l2.9 2.9l-2.9 2.9l-2.9 -2.9zM350.5 285.6l2.9 2.9l-2.9 2.9l-2.9 -2.9zM347.0 294.4l2.9 2.9l-2.9 2.9l-2.9 -2.9zM319.8 297.2l2.9 2.9l-2.9 2.9l-2.9 -2.9zM367.1 300.3l2.9 2.9l-2.9 2.9l-2.9 -2.9zM359.5 302.6l2.9 2.9l-2.9 2.9l-2.9 -2.9zM331.6 305.7l2.9 2.9l-2.9 2.9l-2.9 -2.9zM338.7 308.6l2.9 2.9l-2.9 2.9l-2.9 -2.9zM341.1 303.4l2.9 2.9l-2.9 2.9l-2.9 -2.9zM345.8 309.0l2.9 2.9l-2.9 2.9l-2.9 -2.9zM363.1 310.9l2.9 2.9l-2.9 2.9l-2.9 -2.9zM375.4 306.7l2.9 2.9l-2.9 2.9l-2.9 -2.9zM375.4 312.6l2.9 2.9l-2.9 2.9l-2.9 -2.9zM385.3 305.0l2.9 2.9l-2.9 2.9l-2.9 -2.9zM429.0 309.3l2.9 2.9l-2.9 2.9l-2.9 -2.9zM303.7 315.2l2.9 2.9l-2.9 2.9l-2.9 -2.9zM326.9 313.8l2.9 2.9l-2.9 2.9l-2.9 -2.9zM335.9 314.5l2.9 2.9l-2.9 2.9l-2.9 -2.9zM342.3 315.6l2.9 2.9l-2.9 2.9l-2.9 -2.9zM316.6 306.2l2.9 2.9l-2.9 2.9l-2.9 -2.9zM318.8 308.7l2.9 2.9l-2.9 2.9l-2.9 -2.9zM321.0 311.3l2.9 2.9l-2.9 2.9l-2.9 -2.9zM332.1 305.8l2.9 2.9l-2.9 2.9l-2.9 -2.9zM327.7 310.2l2.9 2.9l-2.9 2.9l-2.9 -2.9zM328.1 313.2l2.9 2.9l-2.9 2.9l-2.9 -2.9zM338.7 308.3l2.9 2.9l-2.9 2.9l-2.9 -2.9zM341.0 303.6l2.9 2.9l-2.9 2.9l-2.9 -2.9zM346.1 308.7l2.9 2.9l-2.9 2.9l-2.9 -2.9zM344.7 311.0l2.9 2.9l-2.9 2.9l-2.9 -2.9zM350.3 307.7l2.9 2.9l-2.9 2.9l-2.9 -2.9zM359.4 303.3l2.9 2.9l-2.9 2.9l-2.9 -2.9zM362.7 311.0l2.9 2.9l-2.9 2.9l-2.9 -2.9zM304.0 315.7l2.9 2.9l-2.9 2.9l-2.9 -2.9zM316.3 319.1l2.9 2.9l-2.9 2.9l-2.9 -2.9zM336.1 313.9l2.9 2.9l-2.9 2.9l-2.9 -2.9zM341.7 315.1l2.9 2.9l-2.9 2.9l-2.9 -2.9zM327.7 319.1l2.9 2.9l-2.9 2.9l-2.9 -2.9zM334.3 319.8l2.9 2.9l-2.9 2.9l-2.9 -2.9zM321.8 322.0l2.9 2.9l-2.9 2.9l-2.9 -2.9zM326.2 324.3l2.9 2.9l-2.9 2.9l-2.9 -2.9zM333.6 324.3l2.9 2.9l-2.9 2.9l-2.9 -2.9zM343.2 323.5l2.9 2.9l-2.9 2.9l-2.9 -2.9zM346.1 322.8l2.9 2.9l-2.9 2.9l-2.9 -2.9zM353.5 318.3l2.9 2.9l-2.9 2.9l-2.9 -2.9zM368.3 320.6l2.9 2.9l-2.9 2.9l-2.9 -2.9zM372.0 319.5l2.9 2.9l-2.9 2.9l-2.9 -2.9zM307.7 325.0l2.9 2.9l-2.9 2.9l-2.9 -2.9zM301.1 330.9l2.9 2.9l-2.9 2.9l-2.9 -2.9zM320.3 330.2l2.9 2.9l-2.9 2.9l-2.9 -2.9zM319.5 335.3l2.9 2.9l-2.9 2.9l-2.9 -2.9zM332.8 333.1l2.9 2.9l-2.9 2.9l-2.9 -2.9zM339.5 331.6l2.9 2.9l-2.9 2.9l-2.9 -2.9zM341.0 336.1l2.9 2.9l-2.9 2.9l-2.9 -2.9zM344.7 333.9l2.9 2.9l-2.9 2.9l-2.9 -2.9zM347.6 336.1l2.9 2.9l-2.9 2.9l-2.9 -2.9zM345.4 330.9l2.9 2.9l-2.9 2.9l-2.9 -2.9zM352.0 329.4l2.9 2.9l-2.9 2.9l-2.9 -2.9zM355.0 337.6l2.9 2.9l-2.9 2.9l-2.9 -2.9zM359.4 337.6l2.9 2.9l-2.9 2.9l-2.9 -2.9zM360.9 333.1l2.9 2.9l-2.9 2.9l-2.9 -2.9zM309.2 338.6l2.9 2.9l-2.9 2.9l-2.9 -2.9zM334.3 338.3l2.9 2.9l-2.9 2.9l-2.9 -2.9zM315.8 343.5l2.9 2.9l-2.9 2.9l-2.9 -2.9zM323.2 346.7l2.9 2.9l-2.9 2.9l-2.9 -2.9zM334.3 345.2l2.9 2.9l-2.9 2.9l-2.9 -2.9zM343.2 344.9l2.9 2.9l-2.9 2.9l-2.9 -2.9zM347.6 341.2l2.9 2.9l-2.9 2.9l-2.9 -2.9zM372.0 344.6l2.9 2.9l-2.9 2.9l-2.9 -2.9zM388.7 342.8l2.9 2.9l-2.9 2.9l-2.9 -2.9zM341.0 350.6l2.9 2.9l-2.9 2.9l-2.9 -2.9zM341.0 353.4l2.9 2.9l-2.9 2.9l-2.9 -2.9zM318.8 354.6l2.9 2.9l-2.9 2.9l-2.9 -2.9zM350.6 354.6l2.9 2.9l-2.9 2.9l-2.9 -2.9zM383.7 327.6l2.9 2.9l-2.9 2.9l-2.9 -2.9zM408.9 343.7l2.9 2.9l-2.9 2.9l-2.9 -2.9zM316.3 343.7l2.9 2.9l-2.9 2.9l-2.9 -2.9zM324.1 347.0l2.9 2.9l-2.9 2.9l-2.9 -2.9zM336.4 344.2l2.9 2.9l-2.9 2.9l-2.9 -2.9zM348.2 341.8l2.9 2.9l-2.9 2.9l-2.9 -2.9zM354.1 357.2l2.9 2.9l-2.9 2.9l-2.9 -2.9zM317.9 354.1l2.9 2.9l-2.9 2.9l-2.9 -2.9zM319.3 356.0l2.9 2.9l-2.9 2.9l-2.9 -2.9zM322.2 362.6l2.9 2.9l-2.9 2.9l-2.9 -2.9zM314.6 366.6l2.9 2.9l-2.9 2.9l-2.9 -2.9zM316.3 373.7l2.9 2.9l-2.9 2.9l-2.9 -2.9zM371.8 344.7l2.9 2.9l-2.9 2.9l-2.9 -2.9zM388.8 342.3l2.9 2.9l-2.9 2.9l-2.9 -2.9zM408.9 343.5l2.9 2.9l-2.9 2.9l-2.9 -2.9zM423.8 357.2l2.9 2.9l-2.9 2.9l-2.9 -2.9zM342.0 322.1l2.9 2.9l-2.9 2.9l-2.9 -2.9zM347.0 322.6l2.9 2.9l-2.9 2.9l-2.9 -2.9zM344.0 325.1l2.9 2.9l-2.9 2.9l-2.9 -2.9zM349.0 326.1l2.9 2.9l-2.9 2.9l-2.9 -2.9zM341.0 329.1l2.9 2.9l-2.9 2.9l-2.9 -2.9zM346.0 329.1l2.9 2.9l-2.9 2.9l-2.9 -2.9zM340.5 333.1l2.9 2.9l-2.9 2.9l-2.9 -2.9zM343.5 335.1l2.9 2.9l-2.9 2.9l-2.9 -2.9zM348.0 333.6l2.9 2.9l-2.9 2.9l-2.9 -2.9zM342.0 338.1l2.9 2.9l-2.9 2.9l-2.9 -2.9zM346.0 338.1l2.9 2.9l-2.9 2.9l-2.9 -2.9zM350.0 336.1l2.9 2.9l-2.9 2.9l-2.9 -2.9zM353.0 337.6l2.9 2.9l-2.9 2.9l-2.9 -2.9zM356.0 335.1l2.9 2.9l-2.9 2.9l-2.9 -2.9zM359.0 332.6l2.9 2.9l-2.9 2.9l-2.9 -2.9z"/>
<path fill="#000" d="M591.6 263.2l2.9 2.9l-2.9 2.9l-2.9 -2.9zM562.1 290.8l2.9 2.9l-2.9 2.9l-2.9 -2.9zM572.0 295.1l2.9 2.9l-2.9 2.9l-2.9 -2.9zM583.8 296.7l2.9 2.9l-2.9 2.9l-2.9 -2.9zM553.3 301.0l2.9 2.9l-2.9 2.9l-2.9 -2.9zM580.3 301.0l2.9 2.9l-2.9 2.9l-2.9 -2.9zM602.3 301.9l2.9 2.9l-2.9 2.9l-2.9 -2.9zM609.4 301.0l2.9 2.9l-2.9 2.9l-2.9 -2.9zM566.1 313.3l2.9 2.9l-2.9 2.9l-2.9 -2.9zM570.4 310.9l2.9 2.9l-2.9 2.9l-2.9 -2.9zM575.6 312.6l2.9 2.9l-2.9 2.9l-2.9 -2.9zM597.5 309.3l2.9 2.9l-2.9 2.9l-2.9 -2.9zM605.8 307.4l2.9 2.9l-2.9 2.9l-2.9 -2.9zM610.1 308.1l2.9 2.9l-2.9 2.9l-2.9 -2.9zM601.1 313.8l2.9 2.9l-2.9 2.9l-2.9 -2.9zM583.8 314.5l2.9 2.9l-2.9 2.9l-2.9 -2.9zM662.2 306.8l2.9 2.9l-2.9 2.9l-2.9 -2.9zM536.8 317.0l2.9 2.9l-2.9 2.9l-2.9 -2.9zM551.5 316.8l2.9 2.9l-2.9 2.9l-2.9 -2.9zM555.0 316.1l2.9 2.9l-2.9 2.9l-2.9 -2.9zM594.0 317.3l2.9 2.9l-2.9 2.9l-2.9 -2.9zM556.0 319.2l2.9 2.9l-2.9 2.9l-2.9 -2.9zM560.5 319.7l2.9 2.9l-2.9 2.9l-2.9 -2.9zM593.7 318.2l2.9 2.9l-2.9 2.9l-2.9 -2.9zM587.0 321.9l2.9 2.9l-2.9 2.9l-2.9 -2.9zM580.4 324.1l2.9 2.9l-2.9 2.9l-2.9 -2.9zM541.0 325.1l2.9 2.9l-2.9 2.9l-2.9 -2.9zM554.2 326.0l2.9 2.9l-2.9 2.9l-2.9 -2.9zM567.8 326.3l2.9 2.9l-2.9 2.9l-2.9 -2.9zM618.7 324.3l2.9 2.9l-2.9 2.9l-2.9 -2.9zM549.4 329.6l2.9 2.9l-2.9 2.9l-2.9 -2.9zM594.4 333.7l2.9 2.9l-2.9 2.9l-2.9 -2.9zM601.1 332.5l2.9 2.9l-2.9 2.9l-2.9 -2.9zM618.1 339.3l2.9 2.9l-2.9 2.9l-2.9 -2.9zM536.8 344.8l2.9 2.9l-2.9 2.9l-2.9 -2.9zM549.4 347.7l2.9 2.9l-2.9 2.9l-2.9 -2.9zM534.3 349.9l2.9 2.9l-2.9 2.9l-2.9 -2.9zM543.5 351.4l2.9 2.9l-2.9 2.9l-2.9 -2.9zM544.2 355.8l2.9 2.9l-2.9 2.9l-2.9 -2.9zM553.8 355.1l2.9 2.9l-2.9 2.9l-2.9 -2.9zM623.0 348.6l2.9 2.9l-2.9 2.9l-2.9 -2.9zM586.7 322.6l2.9 2.9l-2.9 2.9l-2.9 -2.9zM572.0 330.0l2.9 2.9l-2.9 2.9l-2.9 -2.9zM575.2 329.4l2.9 2.9l-2.9 2.9l-2.9 -2.9zM578.8 329.4l2.9 2.9l-2.9 2.9l-2.9 -2.9zM581.5 330.5l2.9 2.9l-2.9 2.9l-2.9 -2.9zM573.1 332.6l2.9 2.9l-2.9 2.9l-2.9 -2.9zM576.7 333.1l2.9 2.9l-2.9 2.9l-2.9 -2.9zM575.2 335.2l2.9 2.9l-2.9 2.9l-2.9 -2.9zM569.4 336.3l2.9 2.9l-2.9 2.9l-2.9 -2.9zM562.1 335.7l2.9 2.9l-2.9 2.9l-2.9 -2.9zM560.0 337.8l2.9 2.9l-2.9 2.9l-2.9 -2.9zM552.1 338.9l2.9 2.9l-2.9 2.9l-2.9 -2.9zM584.1 337.8l2.9 2.9l-2.9 2.9l-2.9 -2.9zM594.6 333.6l2.9 2.9l-2.9 2.9l-2.9 -2.9zM576.2 341.5l2.9 2.9l-2.9 2.9l-2.9 -2.9zM578.3 344.1l2.9 2.9l-2.9 2.9l-2.9 -2.9zM575.2 346.2l2.9 2.9l-2.9 2.9l-2.9 -2.9zM580.4 343.1l2.9 2.9l-2.9 2.9l-2.9 -2.9zM583.6 340.5l2.9 2.9l-2.9 2.9l-2.9 -2.9zM566.8 344.7l2.9 2.9l-2.9 2.9l-2.9 -2.9zM573.1 348.3l2.9 2.9l-2.9 2.9l-2.9 -2.9zM579.4 349.9l2.9 2.9l-2.9 2.9l-2.9 -2.9zM566.8 350.4l2.9 2.9l-2.9 2.9l-2.9 -2.9zM592.0 342.6l2.9 2.9l-2.9 2.9l-2.9 -2.9zM594.1 345.2l2.9 2.9l-2.9 2.9l-2.9 -2.9zM590.4 346.2l2.9 2.9l-2.9 2.9l-2.9 -2.9zM592.0 348.3l2.9 2.9l-2.9 2.9l-2.9 -2.9zM587.8 349.9l2.9 2.9l-2.9 2.9l-2.9 -2.9zM550.0 347.8l2.9 2.9l-2.9 2.9l-2.9 -2.9zM553.7 355.1l2.9 2.9l-2.9 2.9l-2.9 -2.9zM574.7 356.2l2.9 2.9l-2.9 2.9l-2.9 -2.9zM576.7 358.3l2.9 2.9l-2.9 2.9l-2.9 -2.9zM574.1 360.9l2.9 2.9l-2.9 2.9l-2.9 -2.9zM587.2 357.8l2.9 2.9l-2.9 2.9l-2.9 -2.9zM586.7 363.5l2.9 2.9l-2.9 2.9l-2.9 -2.9zM605.6 360.4l2.9 2.9l-2.9 2.9l-2.9 -2.9zM552.1 361.4l2.9 2.9l-2.9 2.9l-2.9 -2.9zM568.4 363.0l2.9 2.9l-2.9 2.9l-2.9 -2.9zM581.5 364.1l2.9 2.9l-2.9 2.9l-2.9 -2.9zM537.3 344.7l2.9 2.9l-2.9 2.9l-2.9 -2.9zM543.9 352.5l2.9 2.9l-2.9 2.9l-2.9 -2.9zM553.3 354.8l2.9 2.9l-2.9 2.9l-2.9 -2.9zM555.0 365.9l2.9 2.9l-2.9 2.9l-2.9 -2.9zM552.6 373.0l2.9 2.9l-2.9 2.9l-2.9 -2.9zM548.5 382.2l2.9 2.9l-2.9 2.9l-2.9 -2.9zM569.2 365.0l2.9 2.9l-2.9 2.9l-2.9 -2.9zM566.8 368.3l2.9 2.9l-2.9 2.9l-2.9 -2.9zM581.7 365.0l2.9 2.9l-2.9 2.9l-2.9 -2.9zM586.9 363.6l2.9 2.9l-2.9 2.9l-2.9 -2.9zM576.3 374.9l2.9 2.9l-2.9 2.9l-2.9 -2.9zM584.1 373.7l2.9 2.9l-2.9 2.9l-2.9 -2.9zM617.6 339.5l2.9 2.9l-2.9 2.9l-2.9 -2.9zM622.8 348.4l2.9 2.9l-2.9 2.9l-2.9 -2.9zM642.4 373.7l2.9 2.9l-2.9 2.9l-2.9 -2.9zM657.8 372.1l2.9 2.9l-2.9 2.9l-2.9 -2.9zM570.5 310.8l2.9 2.9l-2.9 2.9l-2.9 -2.9zM597.1 309.3l2.9 2.9l-2.9 2.9l-2.9 -2.9zM601.1 313.3l2.9 2.9l-2.9 2.9l-2.9 -2.9zM583.5 341.1l2.9 2.9l-2.9 2.9l-2.9 -2.9zM585.5 345.1l2.9 2.9l-2.9 2.9l-2.9 -2.9zM582.0 348.1l2.9 2.9l-2.9 2.9l-2.9 -2.9zM578.5 348.6l2.9 2.9l-2.9 2.9l-2.9 -2.9zM576.0 337.6l2.9 2.9l-2.9 2.9l-2.9 -2.9z"/>
<line x1="63.6" y1="122.0" x2="163.3" y2="94.9" stroke="#c46c1c" stroke-width="1.9"/>
<line x1="70.7" y1="142.3" x2="170.6" y2="94.5" stroke="#d8141c" stroke-width="1.9" stroke-dasharray="9.5 4.7" stroke-dashoffset="-1.2"/>
<line x1="298" y1="103.5" x2="397.6" y2="97.7" stroke="#c46c1c" stroke-width="1.9"/>
<line x1="304.4" y1="118.6" x2="408.7" y2="83.7" stroke="#d8141c" stroke-width="1.9" stroke-dasharray="9.5 4.7" stroke-dashoffset="-1.8"/>
<line x1="530.9" y1="114.5" x2="630.7" y2="106.9" stroke="#c46c1c" stroke-width="1.9"/>
<line x1="537.6" y1="137.0" x2="638.4" y2="88.9" stroke="#d8141c" stroke-width="1.9" stroke-dasharray="9.5 4.7" stroke-dashoffset="-1.5"/>
<line x1="67.4" y1="347" x2="175.8" y2="330.5" stroke="#c46c1c" stroke-width="1.9"/>
<line x1="71.1" y1="362.9" x2="195.1" y2="320" stroke="#d8141c" stroke-width="1.9" stroke-dasharray="9.5 4.7" stroke-dashoffset="-1.6"/>
<line x1="301.1" y1="333.1" x2="409.1" y2="325.6" stroke="#c46c1c" stroke-width="1.9"/>
<line x1="302.6" y1="334.2" x2="428.7" y2="326.6" stroke="#d8141c" stroke-width="1.9" stroke-dasharray="9.5 4.7" stroke-dashoffset="-2.9"/>
<line x1="534.6" y1="344.3" x2="642.9" y2="334.7" stroke="#c46c1c" stroke-width="1.9"/>
<line x1="538" y1="349.9" x2="660.1" y2="326.9" stroke="#d8141c" stroke-width="1.9" stroke-dasharray="9.5 4.7" stroke-dashoffset="-1.4"/>
</svg>
</body></html>
